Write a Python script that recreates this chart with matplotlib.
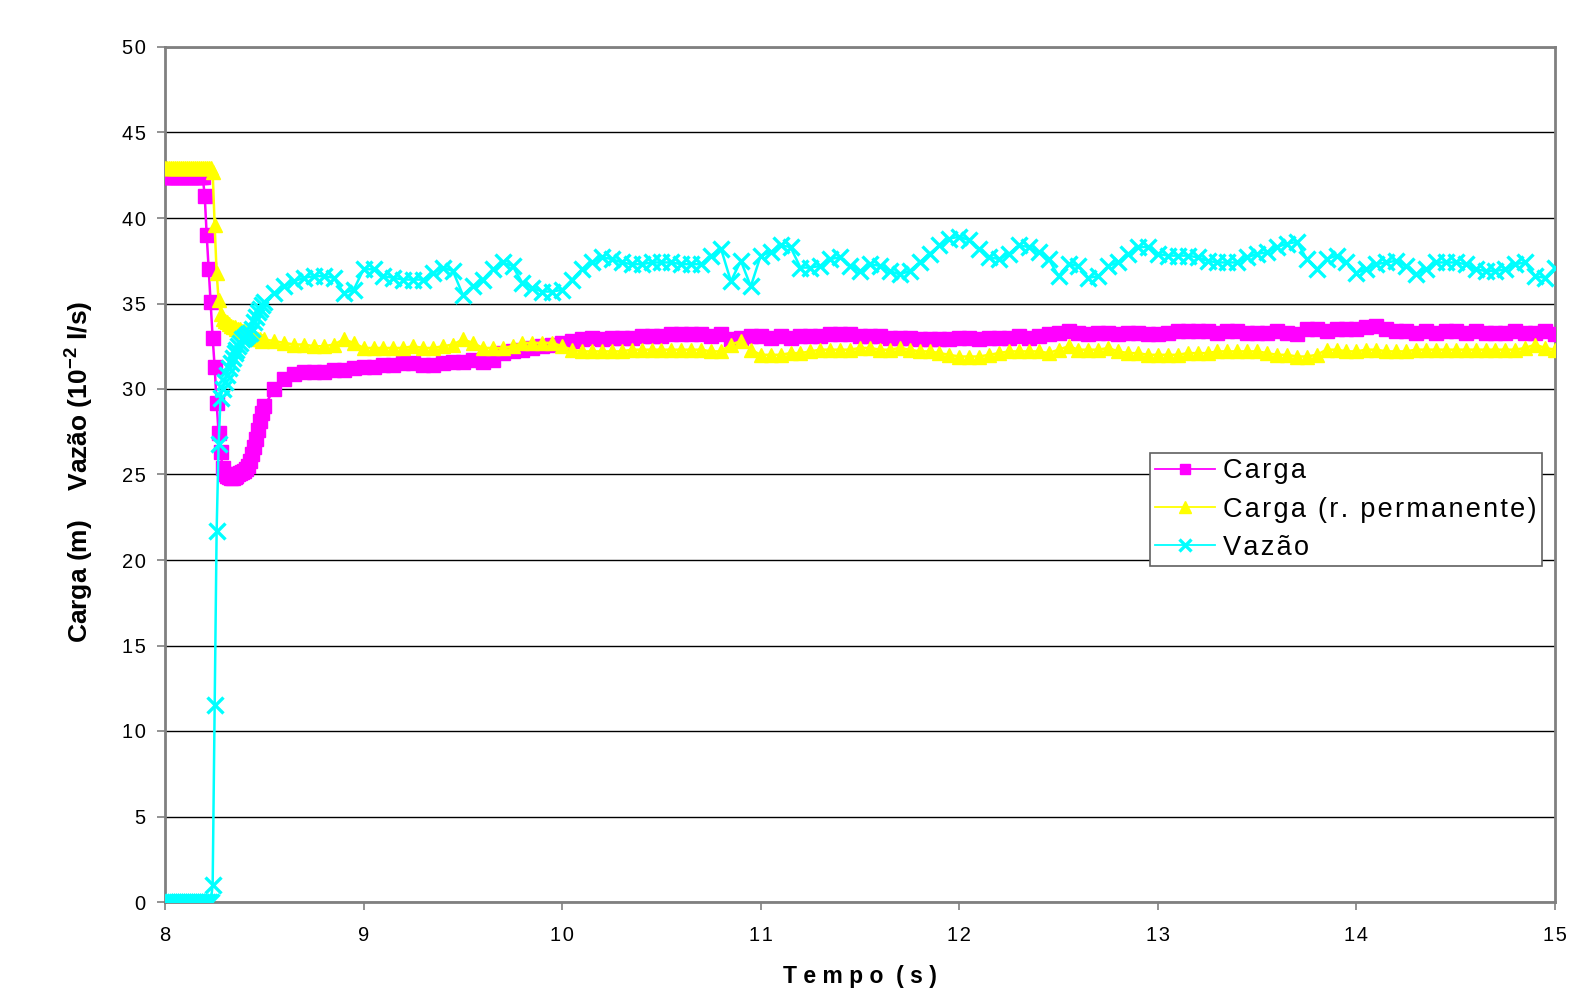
import numpy as np
import matplotlib
matplotlib.use("Agg")
import matplotlib.pyplot as plt

plt.rcParams['font.family'] = ['Liberation Sans', 'DejaVu Sans']
plt.rcParams['mathtext.fontset'] = 'custom'
plt.rcParams['mathtext.bf'] = 'Liberation Sans:bold'
plt.rcParams['mathtext.rm'] = 'Liberation Sans'

# ---- data ----
# fine sampling during the transient (8.00 .. 8.49 s, step 0.01 s)
carga_transient = [42.4] * 20 + [
    41.3, 39.0, 37.0, 35.1, 33.0, 31.3, 29.2, 27.4, 26.3, 25.4,
    25.0, 24.9, 24.85, 24.8, 24.8, 24.85, 24.9, 25.0, 25.1, 25.15,
    25.2, 25.3, 25.5, 25.8, 26.2, 26.6, 27.1, 27.6, 28.1, 28.6]
perm_transient = [42.9] * 24 + [
    42.7, 39.6, 36.8, 35.2, 34.4, 34.1, 34.0, 33.9, 33.8, 33.7,
    33.6, 33.6, 33.5, 33.5, 33.5, 33.4, 33.4, 33.3, 33.2, 33.1,
    33.1, 33.0, 33.0, 32.9, 32.9, 32.8]
vazao_transient = [0.0] * 24 + [
    1.0, 11.5, 21.7, 26.8, 29.5, 30.0, 30.4, 30.8, 31.2, 31.5,
    31.8, 32.1, 32.3, 32.5, 32.7, 32.9, 33.0, 33.1, 33.2, 33.3,
    33.5, 33.9, 34.2, 34.5, 34.7, 34.9]

# coarser sampling afterwards (8.50 .. 15.00 s, step 0.05 s)
carga_late = [
    29.0, 30.0, 30.6, 30.9, 31.0, 31.0, 31.0, 31.1, 31.1, 31.2, 31.3, 31.3, 31.4, 31.4, 31.5, 31.5, 31.4, 31.4, 31.5, 31.6,
    31.6, 31.7, 31.6, 31.7, 32.1, 32.2, 32.3, 32.4, 32.5, 32.6, 32.7, 32.8, 32.9, 33.0, 32.9, 33.0, 33.0, 33.0, 33.1, 33.1,
    33.1, 33.2, 33.2, 33.2, 33.2, 33.1, 33.2, 32.9, 33.0, 33.1, 33.1, 33.0, 33.1, 33.0, 33.1, 33.1, 33.1, 33.2, 33.2, 33.2,
    33.1, 33.1, 33.1, 33.0, 33.0, 33.0, 32.9, 32.9, 32.9, 32.9, 33.0, 33.0, 32.9, 33.0, 33.0, 33.0, 33.1, 33.0, 33.1, 33.2,
    33.3, 33.4, 33.3, 33.2, 33.3, 33.3, 33.2, 33.3, 33.3, 33.2, 33.2, 33.3, 33.4, 33.4, 33.4, 33.4, 33.3, 33.4, 33.4, 33.3,
    33.3, 33.3, 33.4, 33.3, 33.2, 33.5, 33.5, 33.4, 33.5, 33.5, 33.5, 33.6, 33.7, 33.5, 33.4, 33.4, 33.3, 33.4, 33.3, 33.4,
    33.4, 33.3, 33.4, 33.3, 33.3, 33.3, 33.4, 33.3, 33.3, 33.4, 33.2]
perm_late = [
    32.9, 32.8, 32.7, 32.6, 32.6, 32.5, 32.5, 32.6, 32.9, 32.7, 32.4, 32.4, 32.4, 32.4, 32.4, 32.5, 32.4, 32.4, 32.5, 32.6,
    32.9, 32.7, 32.4, 32.4, 32.4, 32.5, 32.7, 32.7, 32.7, 32.7, 32.5, 32.3, 32.2, 32.2, 32.2, 32.2, 32.2, 32.3, 32.3, 32.3,
    32.3, 32.3, 32.3, 32.3, 32.3, 32.2, 32.2, 32.6, 32.8, 32.3, 32.0, 32.0, 32.0, 32.1, 32.1, 32.2, 32.3, 32.3, 32.3, 32.3,
    32.4, 32.4, 32.3, 32.3, 32.4, 32.3, 32.2, 32.2, 32.1, 32.0, 31.9, 31.9, 31.9, 32.0, 32.1, 32.2, 32.2, 32.2, 32.2, 32.1,
    32.3, 32.5, 32.3, 32.3, 32.3, 32.4, 32.2, 32.1, 32.1, 32.0, 32.0, 32.0, 32.0, 32.1, 32.1, 32.1, 32.2, 32.2, 32.2, 32.2,
    32.2, 32.1, 32.0, 32.0, 31.9, 31.9, 32.0, 32.3, 32.3, 32.2, 32.2, 32.3, 32.3, 32.2, 32.2, 32.2, 32.3, 32.3, 32.3, 32.3,
    32.3, 32.3, 32.3, 32.3, 32.3, 32.3, 32.3, 32.4, 32.6, 32.4, 32.3]
vazao_late = [
    35.1, 35.6, 36.0, 36.3, 36.5, 36.6, 36.6, 36.5, 35.6, 35.8, 37.0, 37.0, 36.6, 36.5, 36.4, 36.4, 36.4, 36.8, 37.1, 36.9,
    35.5, 36.0, 36.4, 37.0, 37.4, 37.2, 36.2, 35.9, 35.7, 35.7, 35.8, 36.4, 37.0, 37.4, 37.7, 37.6, 37.4, 37.3, 37.3, 37.4,
    37.4, 37.4, 37.3, 37.3, 37.3, 37.8, 38.2, 36.3, 37.5, 36.0, 37.8, 38.0, 38.4, 38.3, 37.1, 37.1, 37.2, 37.6, 37.7, 37.2,
    36.9, 37.3, 37.2, 36.9, 36.7, 36.9, 37.4, 37.9, 38.4, 38.8, 38.9, 38.7, 38.2, 37.7, 37.6, 37.9, 38.4, 38.3, 38.0, 37.6,
    36.6, 37.3, 37.2, 36.5, 36.6, 37.2, 37.4, 37.9, 38.3, 38.3, 37.9, 37.8, 37.8, 37.8, 37.7, 37.5, 37.4, 37.4, 37.4, 37.7,
    37.9, 38.0, 38.3, 38.5, 38.6, 37.6, 37.0, 37.6, 37.8, 37.4, 36.8, 37.0, 37.3, 37.4, 37.5, 37.2, 36.7, 37.0, 37.4, 37.4,
    37.4, 37.3, 37.0, 36.9, 36.9, 37.0, 37.3, 37.4, 36.6, 36.5, 37.1]

t_transient = np.round(8.0 + 0.01 * np.arange(len(carga_transient)), 3)
t_late = np.round(8.5 + 0.05 * np.arange(len(carga_late)), 3)
tempo = np.concatenate([t_transient, t_late])
carga = np.array(carga_transient + carga_late)
carga_perm = np.array(perm_transient + perm_late)
vazao = np.array(vazao_transient + vazao_late)

series_labels = ['Carga', 'Carga (r. permanente)', 'Vazão']
x_ticks = [8, 9, 10, 11, 12, 13, 14, 15]
y_ticks = [0, 5, 10, 15, 20, 25, 30, 35, 40, 45, 50]


def spaced(s):
    return '\u200a'.join(s)


# ---- figure ----
W, H = 1573, 989
fig = plt.figure(figsize=(W / 100, H / 100), dpi=100)
ax = fig.add_axes([165 / W, 1 - 902 / H, (1555 - 165) / W, (902 - 47) / H])

ax.plot(tempo, carga, color='#FF00FF', lw=1.8, marker='s', ms=9.5,
        mec='#FF00FF', mfc='#FF00FF', label=spaced(series_labels[0]), zorder=3)
ax.plot(tempo, carga_perm, color='#FFFF00', lw=1.8, marker='^', ms=10.5,
        mec='#FFFF00', mfc='#FFFF00', label=spaced(series_labels[1]), zorder=4)
ax.plot(tempo, vazao, color='#00FFFF', lw=1.8, marker='x', ms=11.5, mew=2.4,
        mec='#00FFFF', label=spaced(series_labels[2]), zorder=5)

ax.set_xlim(8, 15)
ax.set_ylim(0, 50)
ax.set_xticks(x_ticks)
ax.set_yticks(y_ticks)
ax.set_xticklabels([spaced(str(v)) for v in x_ticks])
ax.set_yticklabels([spaced(str(v)) for v in y_ticks])
ax.grid(axis='y', color='black', lw=1.0, zorder=1)
ax.set_axisbelow(True)
for s in ax.spines.values():
    s.set_color('#808080')
    s.set_linewidth(2)
ax.tick_params(axis='both', colors='#808080', labelcolor='black',
               labelsize=14.5, length=6, width=1.2, direction='out')
ax.tick_params(axis='y', pad=8)
ax.tick_params(axis='x', pad=11)

fig.text(0.051, 0.523,
         r'Carga (m)    Vazão ($\mathbf{10^{-2}}$ l/s)',
         rotation=90, ha='center', va='center', fontsize=19, fontweight='bold')
fig.text(860 / W, 1 - 977 / H, 'T e m p o  ( s )', ha='center', va='center',
         fontsize=16.5, fontweight='bold')

leg = ax.legend(loc='upper left', bbox_to_anchor=((1150 - 165) / (1555 - 165), (902 - 453) / (902 - 47)),
                fontsize=19.5, frameon=True, fancybox=False, edgecolor='#606060',
                framealpha=1, borderpad=0.2, labelspacing=0.45, handlelength=2.2,
                handletextpad=0.3, borderaxespad=0, markerscale=0.8)
leg.get_frame().set_linewidth(1.2)
for h in leg.get_lines():
    h.set_linewidth(1.3)

fig.savefig('out.png', dpi=100)
